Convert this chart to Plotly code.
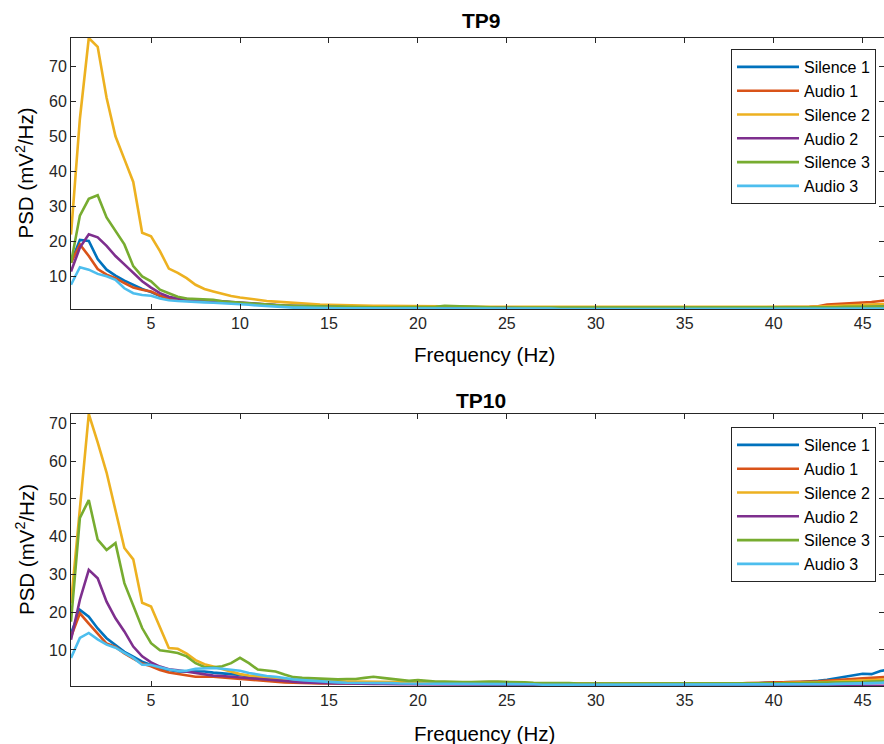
import plotly.graph_objects as go

# Frequency grid of the Welch estimate (0.5 Hz resolution)
freqs = [0.5 * k for k in range(1, 94)]

series_names = ["Silence 1", "Audio 1", "Silence 2", "Audio 2", "Silence 3", "Audio 3"]
series_colors = ["#0072BD", "#D95319", "#EDB120", "#7E2F8E", "#77AC30", "#4DBEEE"]

# ---- TP9 PSD (mV^2/Hz) ----
tp9_silence1 = [
    14, 20.5, 20.2, 15.0, 12.0, 10.3, 8.9, 7.6, 6.5, 5.6,
    4.5, 3.8, 3.4, 3.2, 3.1, 3.1, 3.0, 2.9, 2.7, 2.5,
    2.4, 2.2, 2.0, 1.8, 1.7, 1.6, 1.5, 1.5, 1.4, 1.4,
    1.4, 1.4, 1.3, 1.3, 1.3, 1.3, 1.2, 1.2, 1.2, 1.3,
    1.4, 1.5, 1.6, 1.5, 1.4, 1.3, 1.3, 1.2, 1.2, 1.2,
    1.2, 1.1, 1.1, 1.1, 1.1, 1.0, 1.0, 1.0, 1.0, 1.0,
    1.0, 1.0, 1.0, 1.0, 1.0, 1.1, 1.0, 1.0, 1.0, 1.0,
    1.0, 1.0, 1.0, 1.0, 1.0, 1.1, 1.1, 1.1, 1.1, 1.2,
    1.2, 1.2, 1.2, 1.3, 1.3, 1.4, 1.5, 1.6, 1.7, 1.8,
    1.9, 2.0, 2.1,
]
tp9_audio1 = [
    14, 19.2, 15.9, 12.2, 10.6, 9.6, 8.2, 6.9, 6.3, 5.8,
    4.6, 3.8, 3.4, 3.2, 3.1, 3.0, 2.9, 2.8, 2.6, 2.4,
    2.3, 2.1, 1.9, 1.8, 1.7, 1.6, 1.5, 1.5, 1.4, 1.4,
    1.4, 1.3, 1.3, 1.3, 1.2, 1.2, 1.2, 1.2, 1.1, 1.1,
    1.2, 1.2, 1.3, 1.2, 1.2, 1.1, 1.1, 1.1, 1.1, 1.1,
    1.0, 1.0, 1.0, 1.0, 1.0, 1.0, 1.0, 1.0, 1.0, 1.0,
    1.0, 1.0, 1.1, 1.1, 1.1, 1.1, 1.1, 1.2, 1.1, 1.1,
    1.1, 1.1, 1.1, 1.2, 1.2, 1.2, 1.2, 1.2, 1.3, 1.3,
    1.3, 1.3, 1.4, 1.4, 1.6, 2.1, 2.2, 2.3, 2.6, 2.5,
    2.8, 3.1, 3.3,
]
tp9_silence2 = [
    22, 55, 78, 75.5, 61, 50, 43.5, 37, 22.5, 21.5,
    17.3, 12.3, 11.1, 9.6, 7.7, 6.5, 5.8, 5.1, 4.5, 4.1,
    3.7, 3.4, 3.1, 2.9, 2.7, 2.5, 2.3, 2.2, 2.1, 2.0,
    1.9, 1.9, 1.8, 1.8, 1.7, 1.7, 1.7, 1.6, 1.6, 1.6,
    1.6, 1.5, 1.5, 1.5, 1.5, 1.5, 1.4, 1.4, 1.4, 1.4,
    1.4, 1.3, 1.3, 1.3, 1.3, 1.3, 1.3, 1.3, 1.2, 1.2,
    1.2, 1.2, 1.2, 1.2, 1.2, 1.2, 1.2, 1.2, 1.2, 1.2,
    1.2, 1.2, 1.2, 1.2, 1.2, 1.3, 1.3, 1.3, 1.3, 1.3,
    1.3, 1.3, 1.4, 1.4, 1.5, 1.6, 1.7, 1.8, 1.9, 2.0,
    2.1, 2.2, 2.3,
]
tp9_audio2 = [
    11.5, 18.3, 22.1, 21.2, 18.8, 15.9, 13.5, 11.1, 8.7, 6.9,
    5.3, 4.3, 3.8, 3.6, 3.5, 3.4, 3.2, 3.0, 2.8, 2.6,
    2.4, 2.2, 2.0, 1.9, 1.8, 1.7, 1.6, 1.5, 1.5, 1.4,
    1.4, 1.3, 1.3, 1.3, 1.3, 1.2, 1.2, 1.2, 1.2, 1.2,
    1.2, 1.2, 1.2, 1.2, 1.1, 1.1, 1.1, 1.1, 1.1, 1.1,
    1.1, 1.0, 1.0, 1.0, 1.0, 1.0, 1.0, 1.0, 1.0, 1.0,
    1.0, 1.0, 1.0, 1.0, 1.0, 1.0, 1.0, 1.0, 1.0, 1.0,
    1.0, 1.0, 1.0, 1.0, 1.0, 1.0, 1.0, 1.0, 1.0, 1.0,
    1.0, 1.0, 1.0, 1.0, 1.0, 1.1, 1.1, 1.1, 1.1, 1.1,
    1.1, 1.1, 1.1,
]
tp9_silence3 = [
    14, 27.4, 32.2, 33.2, 26.9, 23, 19.2, 13, 10.1, 8.7,
    6.3, 5.3, 4.3, 3.8, 3.7, 3.7, 3.4, 3.0, 2.8, 2.5,
    2.3, 2.1, 2.0, 1.9, 1.8, 1.7, 1.6, 1.6, 1.5, 1.5,
    1.5, 1.4, 1.4, 1.4, 1.3, 1.3, 1.3, 1.3, 1.3, 1.3,
    1.3, 1.4, 1.7, 1.6, 1.4, 1.3, 1.3, 1.2, 1.2, 1.2,
    1.2, 1.2, 1.1, 1.1, 1.1, 1.1, 1.1, 1.1, 1.1, 1.1,
    1.1, 1.1, 1.1, 1.1, 1.1, 1.1, 1.1, 1.1, 1.1, 1.1,
    1.1, 1.1, 1.1, 1.1, 1.1, 1.1, 1.2, 1.2, 1.2, 1.2,
    1.2, 1.2, 1.2, 1.2, 1.3, 1.3, 1.3, 1.4, 1.4, 1.4,
    1.5, 1.5, 1.5,
]
tp9_audio3 = [
    7.7, 12.7, 12.0, 10.8, 10.1, 9.1, 6.7, 5.3, 4.8, 4.6,
    3.8, 3.3, 3.1, 2.9, 2.8, 2.7, 2.6, 2.5, 2.3, 2.2,
    2.0, 1.8, 1.6, 1.4, 1.3, 1.2, 1.2, 1.1, 1.1, 1.0,
    1.0, 1.0, 1.0, 1.0, 0.9, 0.9, 0.9, 0.9, 0.9, 0.9,
    0.9, 1.0, 1.1, 1.0, 0.9, 0.9, 0.9, 0.9, 0.9, 0.9,
    0.9, 0.9, 0.9, 0.9, 0.9, 0.8, 0.8, 0.8, 0.8, 0.8,
    0.8, 0.8, 0.8, 0.8, 0.8, 0.8, 0.8, 0.8, 0.8, 0.8,
    0.8, 0.8, 0.8, 0.8, 0.8, 0.8, 0.8, 0.8, 0.8, 0.8,
    0.8, 0.8, 0.8, 0.8, 0.8, 0.9, 0.9, 0.9, 0.9, 0.9,
    0.9, 0.9, 0.9,
]

# ---- TP10 PSD (mV^2/Hz) ----
tp10_silence1 = [
    14.4, 20.6, 18.8, 15.7, 13.1, 11.3, 9.5, 8.2, 6.9, 6.0,
    5.1, 4.7, 4.3, 4.3, 4.3, 4.3, 4.0, 3.8, 3.6, 3.4,
    3.0, 2.6, 2.3, 2.0, 1.8, 1.6, 1.5, 1.4, 1.4, 1.3,
    1.3, 1.3, 1.3, 1.3, 1.3, 1.2, 1.2, 1.2, 1.2, 1.2,
    1.2, 1.2, 1.1, 1.1, 1.1, 1.1, 1.1, 1.0, 1.0, 1.0,
    1.0, 1.0, 1.0, 0.9, 0.9, 0.9, 0.9, 0.9, 0.9, 0.9,
    0.9, 0.9, 0.9, 0.9, 0.9, 0.9, 1.0, 1.0, 1.0, 1.0,
    1.1, 1.1, 1.1, 1.0, 0.9, 0.9, 1.0, 1.1, 1.3, 1.4,
    1.5, 1.5, 1.5, 1.6, 1.8, 2.1, 2.5, 2.9, 3.3, 3.7,
    3.6, 4.4, 4.9,
]
tp10_audio1 = [
    13.5, 19.7, 17.0, 14.4, 11.7, 10.8, 9.1, 7.7, 6.4, 5.7,
    4.7, 4.0, 3.6, 3.1, 2.9, 2.9, 2.9, 2.7, 2.5, 2.2,
    2.0, 1.8, 1.6, 1.5, 1.4, 1.3, 1.2, 1.2, 1.1, 1.1,
    1.1, 1.1, 1.1, 1.0, 1.0, 1.0, 1.0, 1.0, 1.0, 1.0,
    1.0, 1.0, 1.0, 1.0, 1.0, 0.9, 0.9, 0.9, 0.9, 0.9,
    0.9, 0.9, 0.9, 0.9, 0.9, 0.9, 0.9, 0.9, 0.9, 0.9,
    0.9, 0.9, 0.9, 0.9, 0.9, 0.9, 0.9, 1.0, 1.0, 1.0,
    1.0, 1.0, 1.0, 1.0, 1.0, 1.1, 1.2, 1.3, 1.4, 1.4,
    1.4, 1.4, 1.5, 1.6, 1.7, 1.9, 2.0, 2.2, 2.4, 2.5,
    2.6, 2.8, 2.9,
]
tp10_silence2 = [
    22.4, 48, 72.5, 65, 57, 47, 37, 34, 22.5, 21.5,
    16, 10.5, 10.3, 9.0, 7.3, 6.2, 5.6, 4.9, 4.2, 3.6,
    3.2, 2.9, 2.7, 2.5, 2.3, 2.1, 2.0, 1.9, 1.8, 1.7,
    1.7, 1.6, 1.6, 1.6, 1.5, 1.5, 1.5, 1.4, 1.4, 1.4,
    1.4, 1.3, 1.3, 1.3, 1.3, 1.3, 1.2, 1.2, 1.2, 1.2,
    1.2, 1.2, 1.1, 1.1, 1.1, 1.1, 1.1, 1.1, 1.1, 1.1,
    1.1, 1.1, 1.1, 1.1, 1.1, 1.1, 1.1, 1.1, 1.1, 1.1,
    1.1, 1.1, 1.1, 1.1, 1.1, 1.1, 1.2, 1.2, 1.2, 1.2,
    1.2, 1.3, 1.3, 1.3, 1.4, 1.5, 1.6, 1.7, 1.8, 1.9,
    2.0, 2.1, 2.2,
]
tp10_audio2 = [
    12.7, 23.3, 31.2, 29, 22.8, 18.4, 14.9, 10.9, 8.3, 6.7,
    5.6, 4.9, 4.6, 4.3, 3.9, 3.5, 3.2, 3.1, 2.9, 2.6,
    2.4, 2.2, 2.0, 1.8, 1.6, 1.5, 1.4, 1.3, 1.2, 1.2,
    1.1, 1.1, 1.0, 1.0, 1.0, 1.0, 0.9, 0.9, 0.9, 0.9,
    0.9, 0.9, 0.9, 0.9, 0.8, 0.8, 0.8, 0.8, 0.8, 0.8,
    0.8, 0.8, 0.8, 0.8, 0.7, 0.7, 0.7, 0.7, 0.7, 0.7,
    0.7, 0.7, 0.7, 0.7, 0.7, 0.7, 0.7, 0.7, 0.7, 0.7,
    0.7, 0.7, 0.7, 0.7, 0.6, 0.6, 0.6, 0.6, 0.6, 0.6,
    0.6, 0.6, 0.6, 0.6, 0.6, 0.6, 0.6, 0.6, 0.5, 0.5,
    0.5, 0.5, 0.5,
]
tp10_silence3 = [
    17.5, 45, 49.7, 39.2, 36.5, 38.3, 27.7, 21.5, 15.8, 11.8,
    9.9, 9.6, 9.2, 8.3, 6.5, 5.5, 5.4, 5.7, 6.5, 7.9,
    6.5, 4.8, 4.5, 4.3, 3.5, 2.8, 2.6, 2.5, 2.3, 2.2,
    2.2, 2.3, 2.3, 2.6, 2.9, 2.6, 2.3, 2.0, 1.8, 2.0,
    1.7, 1.6, 1.6, 1.5, 1.5, 1.5, 1.6, 1.6, 1.6, 1.6,
    1.5, 1.4, 1.3, 1.3, 1.2, 1.2, 1.2, 1.1, 1.1, 1.1,
    1.1, 1.1, 1.1, 1.1, 1.1, 1.1, 1.1, 1.1, 1.1, 1.1,
    1.1, 1.1, 1.1, 1.1, 1.1, 1.1, 1.1, 1.2, 1.2, 1.2,
    1.2, 1.2, 1.2, 1.3, 1.3, 1.3, 1.4, 1.4, 1.5, 1.5,
    1.6, 1.6, 1.7,
]
tp10_audio3 = [
    7.9, 13.2, 14.5, 12.8, 11.4, 10.6, 9.2, 7.9, 6.1, 6.0,
    5.4, 4.8, 4.5, 4.5, 5.0, 5.2, 5.2, 5.0, 4.8, 4.5,
    3.9, 3.5, 3.1, 2.9, 2.5, 2.2, 2.0, 1.8, 1.6, 1.5,
    1.4, 1.3, 1.3, 1.3, 1.2, 1.2, 1.2, 1.1, 1.1, 1.1,
    1.1, 1.0, 1.0, 1.0, 1.0, 1.0, 0.9, 0.9, 0.9, 0.9,
    0.9, 0.9, 0.9, 0.8, 0.8, 0.8, 0.8, 0.8, 0.8, 0.8,
    0.8, 0.8, 0.8, 0.8, 0.8, 0.8, 0.8, 0.8, 0.8, 0.8,
    0.8, 0.8, 0.8, 0.8, 0.8, 0.8, 0.8, 0.8, 0.8, 0.8,
    0.8, 0.8, 0.8, 0.8, 0.9, 0.9, 1.0, 1.0, 1.1, 1.2,
    1.2, 1.3, 1.4,
]

x_ticks = [5, 10, 15, 20, 25, 30, 35, 40, 45]
y_ticks = [10, 20, 30, 40, 50, 60, 70]

tp9 = [tp9_silence1, tp9_audio1, tp9_silence2, tp9_audio2, tp9_silence3, tp9_audio3]
tp10 = [tp10_silence1, tp10_audio1, tp10_silence2, tp10_audio2, tp10_silence3, tp10_audio3]

W, H = 884, 744
FONT = "Liberation Sans, Arial, Helvetica, sans-serif"
INK = "#262626"

fig = go.Figure()
for block, xa, ya, leg in [(tp9, "x", "y", "legend"), (tp10, "x2", "y2", "legend2")]:
    for name, color, vals in zip(series_names, series_colors, block):
        fig.add_trace(go.Scatter(
            x=freqs, y=vals, mode="lines", name=name,
            line=dict(color=color, width=2.6),
            xaxis=xa, yaxis=ya, legend=leg,
        ))

# plot areas in pixels: (top, bottom)
areas = [(38, 309), (414, 686)]
def dom(top, bottom):
    return [1 - bottom / H, 1 - top / H]

axis_common = dict(
    showline=True, linecolor=INK, linewidth=1, mirror="ticks",
    ticks="inside", ticklen=5, tickcolor=INK, tickwidth=1,
    showgrid=False, zeroline=False,
    tickfont=dict(family=FONT, size=16, color=INK),
)

legend_common = dict(
    x=(876 - 71) / (W - 71), xanchor="right", yanchor="top",
    bgcolor="white", bordercolor=INK, borderwidth=1,
    font=dict(family=FONT, size=16, color="black"),
    tracegroupgap=0, itemwidth=62,
)

fig.update_layout(
    width=W, height=H,
    margin=dict(l=71, r=0, t=0, b=0),
    paper_bgcolor="white", plot_bgcolor="white",
    font=dict(family=FONT, color=INK),
    xaxis=dict(domain=[0, 1], range=[0.5, 46.2], anchor="y", tickvals=x_ticks, **axis_common),
    yaxis=dict(domain=dom(*areas[0]), range=[0.8, 78], anchor="x", tickvals=y_ticks, **axis_common),
    xaxis2=dict(domain=[0, 1], range=[0.5, 46.2], anchor="y2", tickvals=x_ticks, **axis_common),
    yaxis2=dict(domain=dom(*areas[1]), range=[0.45, 72.5], anchor="x2", tickvals=y_ticks, **axis_common),
    legend=dict(y=1 - 49 / H, **legend_common),
    legend2=dict(y=1 - 427 / H, **legend_common),
)

def px_x(px):
    return (px - 71) / (W - 71)

def px_y(py):
    return 1 - py / H

notes = [
    ("<b>TP9</b>", px_x(481), px_y(21), 0, 21),
    ("<b>TP10</b>", px_x(481), px_y(400), 0, 21),
    ("Frequency (Hz)", px_x(484), px_y(354), 0, 20.5),
    ("Frequency (Hz)", px_x(484), px_y(733), 0, 20.5),
    ("PSD (mV<sup>2</sup>/Hz)", px_x(25), px_y((38 + 309) / 2), -90, 20.5),
    ("PSD (mV<sup>2</sup>/Hz)", px_x(25), px_y((414 + 686) / 2), -90, 20.5),
]
for text, x, y, ang, size in notes:
    fig.add_annotation(
        text=text, x=x, y=y, xref="paper", yref="paper",
        xanchor="center", yanchor="middle", showarrow=False, textangle=ang,
        font=dict(family=FONT, size=size, color="black"),
    )

fig.write_html("out.html")
